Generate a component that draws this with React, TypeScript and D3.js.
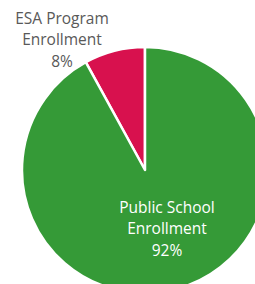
import { useMemo } from "react";
import { pie, arc, PieArcDatum } from "d3";

const categories = ["ESA Program Enrollment", "Public School Enrollment"];
const labelLines = [
  ["ESA Program", "Enrollment", "8%"],
  ["Public School", "Enrollment", "92%"],
];
const shares = [8, 92];
const colors = ["#d8114e", "#359a37"];
const labelColors = ["#595959", "#ffffff"];

const W = 255;
const H = 284;
const CX = 145;
const CY = 170;
const R = 123;
// label anchor offsets (middle line) relative to centre
const labelOffsets: [number, number][] = [
  [-83, -130],
  [22, 59],
];

interface Slice {
  name: string;
  value: number;
  i: number;
}

export default function App() {
  const data: Slice[] = categories.map((name, i) => ({ name, value: shares[i], i }));

  const arcs = useMemo(() => {
    const total = shares.reduce((a, b) => a + b, 0);
    const start = -(shares[0] / total) * Math.PI * 2;
    return pie<Slice>()
      .value((d) => d.value)
      .sort(null)
      .startAngle(start)
      .endAngle(start + Math.PI * 2)(data);
  }, []);

  const arcGen = arc<PieArcDatum<Slice>>().innerRadius(0).outerRadius(R);

  return (
    <svg
      width={W}
      height={H}
      style={{ position: "absolute", left: 0, top: 0, background: "#ffffff" }}
      fontFamily="'Open Sans', Lato, sans-serif"
    >
      <g transform={`translate(${CX},${CY})`}>
        {arcs.map((a) => (
          <path
            key={a.data.name}
            d={arcGen(a) ?? ""}
            fill={colors[a.data.i]}
            stroke="#ffffff"
            strokeWidth={2.5}
            strokeLinejoin="round"
          />
        ))}
        {labelLines.map((lines, i) => (
          <text
            key={categories[i]}
            textAnchor="middle"
            fontSize={15.5}
            fill={labelColors[i]}
          >
            {lines.map((ln, j) => (
              <tspan
                key={j}
                x={labelOffsets[i][0]}
                y={labelOffsets[i][1] + (j - 1) * 21.5}
                dy="0.35em"
              >
                {ln}
              </tspan>
            ))}
          </text>
        ))}
      </g>
    </svg>
  );
}
